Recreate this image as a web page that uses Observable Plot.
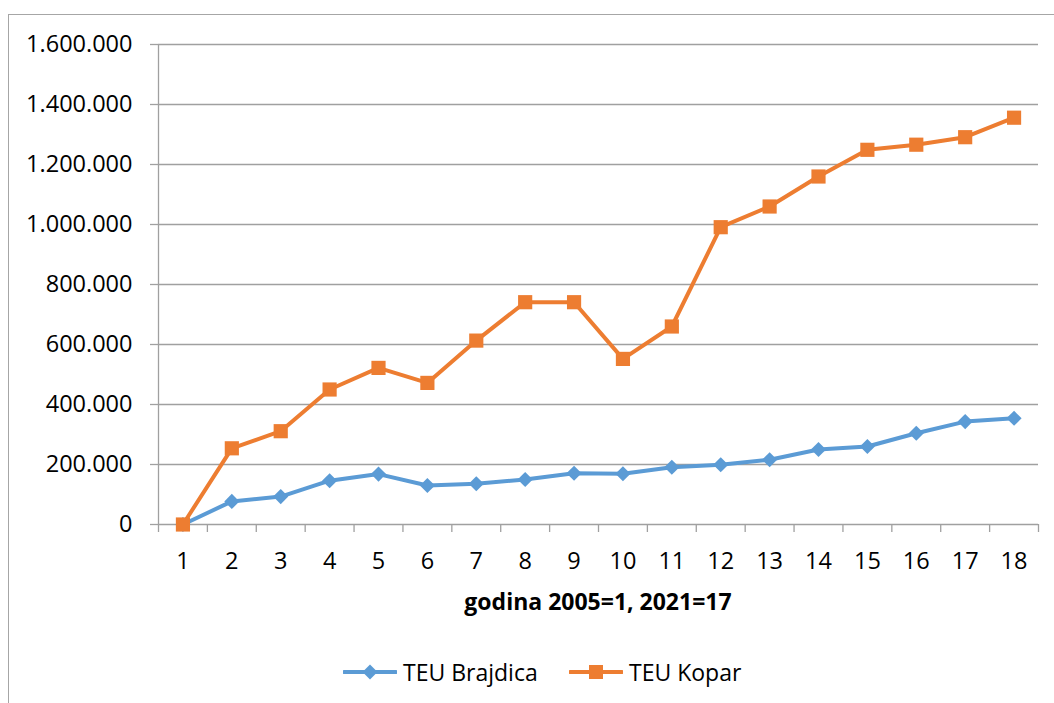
<!DOCTYPE html>
<html><head><meta charset="utf-8">
<script src="https://cdn.jsdelivr.net/npm/d3@7"></script>
<script src="https://cdn.jsdelivr.net/npm/@observablehq/plot@0.6"></script>
<style>
html,body{margin:0;padding:0;background:#fff;overflow:hidden;width:1054px;height:703px;}
body{position:relative;font-family:"Open Sans",sans-serif;color:#000;}
#frame{position:absolute;left:8px;top:14px;width:1100px;height:760px;border:1px solid #a6a6a6;}
#chart{position:absolute;left:0;top:0;}
#xtitle{position:absolute;left:158px;width:880px;top:586px;text-align:center;font-weight:bold;font-size:23px;line-height:30px;}
.leg{position:absolute;top:657px;height:30px;display:flex;align-items:center;font-size:23px;}
.leg svg{margin-right:6px;}
</style></head>
<body>
<div id="frame"></div>
<div id="chart"></div>
<div id="xtitle"></div>
<div class="leg" id="leg1" style="left:343px"></div>
<div class="leg" id="leg2" style="left:569px"></div>
<script>
const categories = [1,2,3,4,5,6,7,8,9,10,11,12,13,14,15,16,17,18];
const brajdica = [0,77000,93000,146000,168000,130000,136000,150000,171000,169000,191000,199000,216000,250000,260000,304000,343000,354000];
const kopar = [0,254000,311000,450000,522000,472000,613000,741000,741000,552000,660000,991000,1060000,1160000,1249000,1266000,1291000,1356000];
const yTicks = [0,200000,400000,600000,800000,1000000,1200000,1400000,1600000];
const seriesNames = ["TEU Brajdica","TEU Kopar"];
const xTitle = "godina 2005=1, 2021=17";

const blue = "#5B9BD5", orange = "#ED7D31";
const boundaries = categories.map(c => c - 0.5).concat([categories[categories.length-1] + 0.5]);
const fmt = d3.formatLocale({decimal: ",", thousands: ".", grouping: [3], currency: ["", ""]}).format(",d");

const dataB = categories.map((c,i) => ({x: c, y: brajdica[i]}));
const dataK = categories.map((c,i) => ({x: c, y: kopar[i]}));

const chart = Plot.plot({
  width: 1054, height: 580,
  marginLeft: 158, marginRight: 16, marginTop: 44, marginBottom: 56,
  style: {fontFamily: "'Open Sans', sans-serif", fontSize: "23.5px", color: "#000", background: "transparent"},
  x: {domain: [boundaries[0], boundaries[boundaries.length-1]]},
  y: {domain: [0, 1600000]},
  marks: [
    Plot.gridY(yTicks, {stroke: "#a0a0a0", strokeOpacity: 1, strokeWidth: 1.3}),
    Plot.axisY(yTicks, {tickSize: 8, tickPadding: 18, tickFormat: fmt, stroke: "#a0a0a0", strokeWidth: 1.3, fill: "#000", label: null}),
    Plot.ruleX([boundaries[0]], {stroke: "#a0a0a0", strokeWidth: 1.3}),
    Plot.axisX(boundaries, {tickSize: 8, tickFormat: () => "", stroke: "#a0a0a0", strokeWidth: 1.3, label: null}),
    Plot.axisX(categories, {tickSize: 0, tickPadding: 28, tickFormat: d => String(d), fill: "#000", label: null}),
    Plot.line(dataB, {x: "x", y: "y", stroke: blue, strokeWidth: 4}),
    Plot.dot(dataB, {x: "x", y: "y", symbol: "diamond2", r: 6.8, fill: blue, stroke: "none"}),
    Plot.line(dataK, {x: "x", y: "y", stroke: orange, strokeWidth: 4}),
    Plot.dot(dataK, {x: "x", y: "y", symbol: "square", r: 8, fill: orange, stroke: "none"})
  ]
});
document.getElementById("chart").append(chart);
document.getElementById("xtitle").textContent = xTitle;

function swatch(color, kind) {
  const ns = "http://www.w3.org/2000/svg";
  const s = document.createElementNS(ns, "svg");
  s.setAttribute("width", 54); s.setAttribute("height", 20);
  const l = document.createElementNS(ns, "line");
  l.setAttribute("x1", 1); l.setAttribute("x2", 53); l.setAttribute("y1", 10); l.setAttribute("y2", 10);
  l.setAttribute("stroke", color); l.setAttribute("stroke-width", 4); l.setAttribute("stroke-linecap", "round");
  s.append(l);
  const p = document.createElementNS(ns, "path");
  p.setAttribute("d", kind === "square" ? "M20,3h14v14h-14z" : "M27,2.5l7.5,7.5l-7.5,7.5l-7.5,-7.5z");
  p.setAttribute("fill", color);
  s.append(p);
  return s;
}
const l1 = document.getElementById("leg1");
l1.append(swatch(blue, "diamond"), document.createTextNode(seriesNames[0]));
const l2 = document.getElementById("leg2");
l2.append(swatch(orange, "square"), document.createTextNode(seriesNames[1]));
</script>
</body></html>
